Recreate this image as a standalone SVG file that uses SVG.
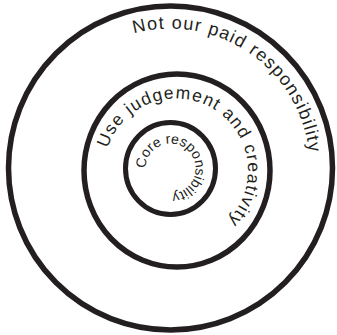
<svg xmlns="http://www.w3.org/2000/svg" xmlns:xlink="http://www.w3.org/1999/xlink" width="337" height="335" viewBox="0 0 337 335">
<style>
.ring{fill:none;stroke:#231f20;stroke-linejoin:round}
.lbl{font-family:"Liberation Sans",Arial,sans-serif;fill:#231f20}
</style>
<defs>
<path id="pOuter" d="M133.8,33.3 A140,140 0 0 1 309.7,158.7"/>
<path id="pMiddle" d="M107.5,148.25 A72,72 0 1 1 224.2,224.0"/>
<path id="pInner" d="M145.5,168.5 A25,25 0 1 1 167.9,193.4"/>
</defs>
<rect width="337" height="335" fill="#ffffff"/>
<g id="outer">
<ellipse class="ring" cx="170.5" cy="168" rx="162" ry="162" stroke-width="5.5"/>
<text class="lbl" font-size="18"><textPath xlink:href="#pOuter" href="#pOuter" textLength="240" lengthAdjust="spacing">Not our paid responsibility</textPath></text>
</g>
<g id="middle">
<ellipse class="ring" cx="177" cy="170.5" rx="93" ry="96.5" stroke-width="5.5"/>
<text class="lbl" font-size="17.5"><textPath xlink:href="#pMiddle" href="#pMiddle" textLength="258" lengthAdjust="spacing">Use judgement and creativity</textPath></text>
</g>
<g id="inner">
<ellipse class="ring" cx="170.5" cy="168.5" rx="45" ry="46" stroke-width="5"/>
<text class="lbl" font-size="14"><textPath xlink:href="#pInner" href="#pInner" textLength="116" lengthAdjust="spacing">Core responsibility</textPath></text>
</g>
</svg>
